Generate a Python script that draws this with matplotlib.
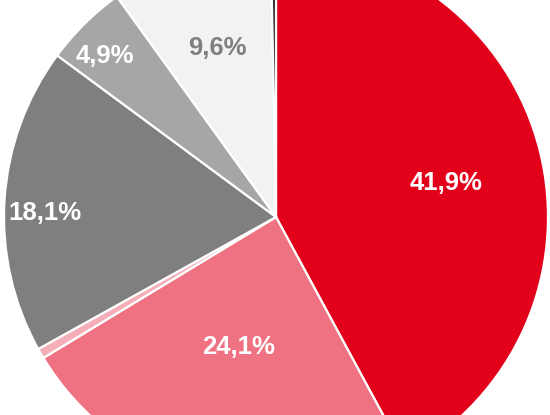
import numpy as np
import matplotlib
matplotlib.use("Agg")
import matplotlib.pyplot as plt

# Slice data (clockwise from 12 o'clock)
shares = [41.9, 24.1, 0.6, 18.1, 4.9, 9.6, 0.3]
labels = ["41,9%", "24,1%", "", "18,1%", "4,9%", "9,6%", ""]
colors = ["#E2001A", "#EF7282", "#F5AEB8", "#7F7F7F", "#A6A6A6", "#F2F2F2", "#262626"]
label_colors = ["white", "white", "white", "white", "white", "#7F7F7F", "white"]
label_dist = [0.64, 0.49, 0.0, 0.85, 0.87, 0.665, 0.0]
label_turn = [-2.2, -1.3, 0.0, 2.1, 1.5, 0.4, 0.0]   # degrees off the wedge middle

plt.rcParams['font.family'] = ['Liberation Sans', 'DejaVu Sans']

fig = plt.figure(figsize=(5.5, 4.15), dpi=100)
ax = fig.add_axes([0, 0, 1, 1])

wedges, _ = ax.pie(shares, colors=colors, startangle=90, counterclock=False,
                   wedgeprops=dict(edgecolor="white", linewidth=1.6))

for w, lab, c, d, t in zip(wedges, labels, label_colors, label_dist, label_turn):
    if not lab:
        continue
    ang = np.deg2rad((w.theta1 + w.theta2) / 2 + t)
    ax.text(d * np.cos(ang), d * np.sin(ang), lab, ha="center", va="center_baseline",
            color=c, fontsize=18.5, fontweight="bold")

# pie is bigger than the frame: crop like the original
r_px = 272.0
cx, cy = 276.0, 217.0
ax.set_aspect("auto")
ax.set_xlim(-cx / r_px, (550 - cx) / r_px)
ax.set_ylim(-(415 - cy) / r_px, cy / r_px)
ax.axis("off")

fig.savefig("out.png", dpi=100)
